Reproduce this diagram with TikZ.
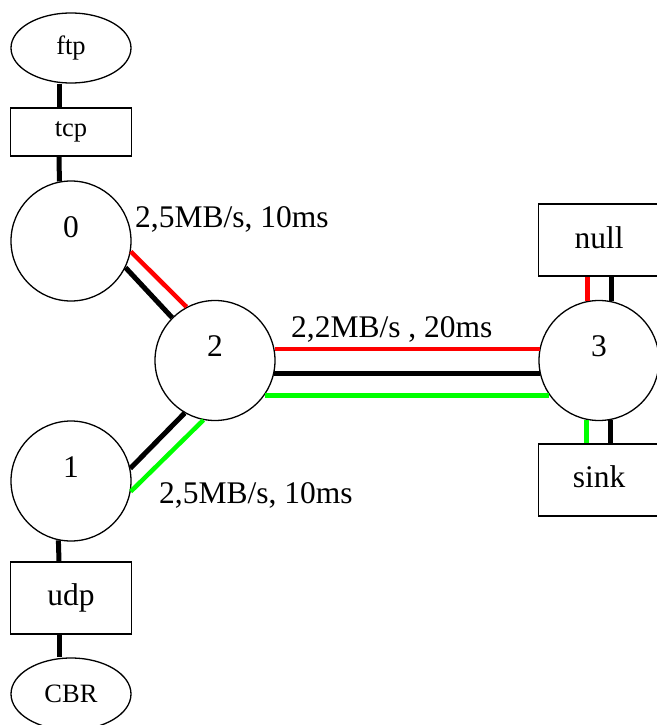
\documentclass[tikz,border=0pt]{standalone}
\usepackage{fontspec}
\setmainfont{Liberation Serif}
\usetikzlibrary{shapes.geometric}
\definecolor{lnred}{RGB}{255,0,0}
\definecolor{lngreen}{RGB}{0,255,0}
\tikzset{
  shapeline/.style={draw=black, line width=1.3pt, fill=white, inner sep=0pt},
  hostnode/.style={shapeline, circle, minimum size=120pt},
  agentbox/.style={shapeline, rectangle, minimum width=121pt, minimum height=72pt, font=\fontsize{31.5}{36}\selectfont},
  smallbox/.style={shapeline, rectangle, minimum width=121pt, minimum height=48pt, font=\fontsize{26.5}{30}\selectfont},
  appnode/.style={shapeline, ellipse, minimum width=120pt, minimum height=70pt, font=\fontsize{26.5}{30}\selectfont},
  numlbl/.style={font=\fontsize{31.5}{36}\selectfont, yshift=14pt},
  linklbl/.style={font=\fontsize{31.5}{36}\selectfont, anchor=base west, inner sep=0pt},
  blk/.style={draw=black, line width=5pt},
  redln/.style={draw=lnred, line width=4.5pt},
  grnln/.style={draw=lngreen, line width=4.5pt},
}
\begin{document}
\begin{tikzpicture}[x=1pt, y=-1pt]
\useasboundingbox (0,0) rectangle (656,725);

% application, transport and host nodes
\node[appnode] (ftp) at (71,48) {ftp};
\node[smallbox] (tcp) at (71,132) {tcp};
\node[hostnode, label={[numlbl]center:0}] (c0) at (71,241) {};
\node[hostnode, label={[numlbl]center:2}] (c2) at (215,360.5) {};
\node[hostnode, label={[numlbl]center:1}] (c1) at (71,481) {};
\node[hostnode, label={[numlbl]center:3}] (c3) at (599,360.5) {};
\node[agentbox] (udp) at (71,598) {\raisebox{5pt}{udp}};
\node[appnode, minimum height=72pt] (cbr) at (71,694) {CBR};
\node[agentbox] (null) at (599,240) {\raisebox{5pt}{null}};
\node[agentbox] (sink) at (599,480) {\raisebox{6pt}{sink}};

% attachments on the left column
\draw[blk] ([xshift=-12pt]ftp.south) -- ([xshift=-12pt]tcp.north);
\draw[blk] ([xshift=-12pt]tcp.south) -- (c0.101.5);
\draw[blk] (c1.258.5) -- ([xshift=-12pt]udp.north);
\draw[blk] ([xshift=-12pt]udp.south) -- ([xshift=-12pt]cbr.north);

% links 0-2 and 1-2
\draw[redln] (c0.-10.2) -- (c2.118.7);
\draw[blk] (c0.-26.6) -- (c2.135);
\draw[blk] (c1.12) -- (c2.240.6);
\draw[grnln] (c1.-10.2) -- (c2.259);

% link 2-3, kept exactly horizontal
\draw[redln] (c2.11.5) -- (c3.168.5 |- c2.11.5);
\draw[blk] (c2.-12) -- (c3.192 |- c2.-12);
\draw[grnln] (c2.-35.5) -- (c3.215.5 |- c2.-35.5);

% sinks attached to node 3
\draw[redln] (c3.101.3) -- (c3.101.3 |- null.south);
\draw[blk] (c3.78.7) -- (c3.78.7 |- null.south);
\draw[grnln] (c3.258.7) -- (c3.258.7 |- sink.north);
\draw[blk] (c3.281.3) -- (c3.281.3 |- sink.north);

% link labels
\node[linklbl] (l02) at (135,227) {2,5MB/s, 10ms};
\node[linklbl] (l23) at (291,337) {2,2MB/s , 20ms};
\node[linklbl] (l12) at (159,503) {2,5MB/s, 10ms};
\end{tikzpicture}
\end{document}
